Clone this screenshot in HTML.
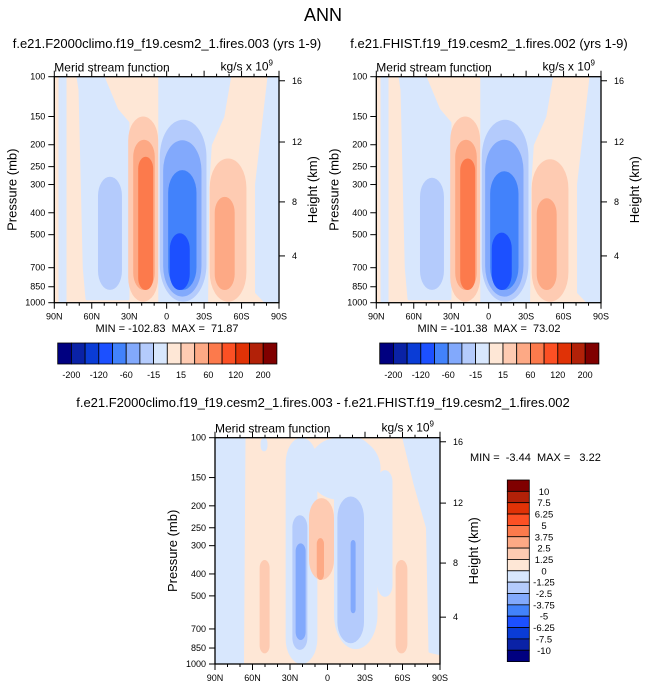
<!DOCTYPE html>
<html><head><meta charset="utf-8"><style>
body{margin:0;background:#fff;width:646px;height:688px;overflow:hidden}
svg{display:block;font-family:"Liberation Sans",sans-serif}
text{white-space:pre}
</style></head><body>
<svg id="c" width="646" height="688" viewBox="0 0 646 688">
<text x="323" y="21" font-size="18" text-anchor="middle">ANN</text>
<text x="167" y="48" font-size="13" text-anchor="middle">f.e21.F2000climo.f19_f19.cesm2_1.fires.003 (yrs 1-9)</text>
<text x="489" y="48" font-size="13" text-anchor="middle">f.e21.FHIST.f19_f19.cesm2_1.fires.002 (yrs 1-9)</text>
<text x="323" y="407" font-size="13" text-anchor="middle">f.e21.F2000climo.f19_f19.cesm2_1.fires.003 - f.e21.FHIST.f19_f19.cesm2_1.fires.002</text>
</svg>
<script>
const levelColors = ['#000080','#0a22a6','#0a3cd6','#1c50ff','#4282fb','#82a9fc','#b4cbfc','#d8e7fd','#fee7d6','#fecbb2','#fda985','#fc7a4c','#fc5024','#e03206','#b22108','#800000'];
const BG = 8;
// Panel A (F2000climo) blobs: lat1, lat2, pTop, pBot, level
const aLat1 = [55, 30.8, 26.8, 22.8, 5.5, 2.8, -1.2, -2.5, -34.5, -38.5];
const aLat2 = [35.8, 6.8, 9.5, 10.8, -31.9, -27.9, -23.9, -18.5, -63.9, -54.5];
const aPTop = [277, 150, 190, 226, 155, 191, 259, 493, 230, 340];
const aPBot = [878, 990, 879, 879, 990, 940, 879, 879, 990, 879];
const aLevel = [6, 9, 10, 11, 6, 5, 4, 3, 9, 10];
// Panel B (FHIST) blobs
const bLat1 = [55, 30.8, 26.8, 22.8, 5.5, 2.8, -1.2, -2.5, -34.5, -38.5];
const bLat2 = [35.8, 6.8, 9.5, 10.8, -31.9, -27.9, -23.9, -18.5, -63.9, -54.5];
const bPTop = [280, 150, 190, 230, 155, 190, 262, 490, 232, 345];
const bPBot = [878, 990, 879, 879, 990, 940, 879, 879, 990, 879];
const bLevel = [6, 9, 10, 11, 6, 5, 4, 3, 9, 10];
// Light blue regions (polygons, lat/p pairs) for panels A/B
const abPolyLats = [[71,51,40,31,31,63.8,66,69.4],[5.5,-50.5,-45,-35,-33,-32,5.5],[-82,-90,-90,-80,-72,-72],[85.4,81.4,81.4,85.4]];
const abPolyPs = [[100,100,140,160,960,960,700,114.5],[100,100,150,200,300,1000,1000],[100,100,1000,1000,900,300],[100,100,1000,1000]];
// Diff panel blobs
const dLat1 = [33.5, 16, -5.2, -40, 14.8, 8.6, 28.1, 25.5, -7.9, -18.5, 54.3, -54.5, 53.5];
const dLat2 = [8.1, -42.5, -40, -52, -5.2, 2.8, 16.1, 17.5, -29.2, -22.5, 46.3, -63.9, 48];
const dPTop = [100, 100, 100, 139, 185, 278, 220, 293, 182, 283, 347, 347, 100];
const dPBot = [1000, 188, 860, 505, 425, 425, 866, 783, 810, 597, 897, 897, 115];
const dLevel = [7, 7, 7, 7, 9, 10, 6, 5, 6, 5, 9, 9, 7];
const dPolyLats = [[90,66.8,68,90],[-61,-90,-90,-82,-80,-70]];
const dPolyPs = [[100,100,1000,1000],[100,100,900,880,250,160]];
const pTicks = [100,150,200,250,300,400,500,700,850,1000];
const latTicks = [90,60,30,0,-30,-60,-90];
const latLabels = ['90N','60N','30N','0','30S','60S','90S'];
const hTicks = [16,12,8,4];
const hFrac = [0.018,0.289,0.554,0.793];
const barLabelsH = ['-200','-120','-60','-15','15','60','120','200'];
const barLabelsV = ['10','7.5','6.25','5','3.75','2.5','1.25','0','-1.25','-2.5','-3.75','-5','-6.25','-7.5','-10'];

const NS='http://www.w3.org/2000/svg';
const svg=document.getElementById('c');
function mk(tag,attrs,parent){const e=document.createElementNS(NS,tag);for(const k in attrs)e.setAttribute(k,attrs[k]);(parent||svg).appendChild(e);return e;}

function panel(pfx,x0,y0,w,h,lat1,lat2,pt,pb,lv,polyLats,polyPs,minmax,mmx,mmy,mmAnchor){
  const X=lat=>x0+(90-lat)/180*w;
  const Y=p=>y0+h*Math.log10(p/100);
  const g=mk('g',{});
  
  
  const cp='clip'+pfx;
  const cl=mk('clipPath',{id:cp},g);mk('rect',{x:x0,y:y0,width:w,height:h},cl);
  const inner=mk('g',{'clip-path':'url(#'+cp+')'},g);
  const bg=mk('rect',{x:x0,y:y0,width:w,height:h,fill:levelColors[BG]},inner);
  
  
  polyLats.forEach((ls,i)=>{
    const pts=ls.map((l,j)=>X(l)+','+Y(polyPs[i][j])).join(' ');
    const e=mk('polygon',{points:pts,fill:levelColors[7],'stroke':levelColors[7],'stroke-width':3,'stroke-linejoin':'round'},inner);
    
    
  });
  lat1.forEach((l,i)=>{
    const xa=X(l),xb=X(lat2[i]),ya=Y(pt[i]),yb=Y(pb[i]);
    const ww=xb-xa,hh=yb-ya;const r=Math.min(ww,hh)/2;
    const e=mk('rect',{x:xa,y:ya,width:ww,height:hh,rx:r,ry:Math.min(r*1.6,hh/2),fill:levelColors[lv[i]]},inner);
    
    
  });
  const fr=mk('rect',{x:x0,y:y0,width:w,height:h,fill:'none',stroke:'#000','stroke-width':1.3},g);
  
  
  for(let l=90;l>=-90;l-=10){
    const major=l%30===0;const len=major?6:3;
    mk('line',{x1:X(l),x2:X(l),y1:y0+h,y2:y0+h+len,stroke:'#000'},g);
    mk('line',{x1:X(l),x2:X(l),y1:y0,y2:y0-len,stroke:'#000'},g);
  }
  latTicks.forEach((l,i)=>{const t=mk('text',{x:X(l),y:y0+h+17,'font-size':9,'text-anchor':'middle'},g);t.textContent=latLabels[i];
    
    });
  pTicks.forEach(p=>{mk('line',{x1:x0-6,x2:x0,y1:Y(p),y2:Y(p),stroke:'#000'},g);
    const t=mk('text',{x:x0-9,y:Y(p)+3,'font-size':9,'text-anchor':'end'},g);t.textContent=p;
    
    });
  hTicks.forEach((z,i)=>{const yy=y0+h*hFrac[i];mk('line',{x1:x0+w,x2:x0+w+6,y1:yy,y2:yy,stroke:'#000'},g);
    const t=mk('text',{x:x0+w+13,y:yy+3,'font-size':9},g);t.textContent=z;
    
    });
  let t=mk('text',{x:x0-38,y:y0+h/2,'font-size':13,'text-anchor':'middle',transform:`rotate(-90 ${x0-38} ${y0+h/2})`},g);t.textContent='Pressure (mb)';
  
  
  t=mk('text',{x:x0+w+38,y:y0+h/2,'font-size':13,'text-anchor':'middle',transform:`rotate(-90 ${x0+w+38} ${y0+h/2})`},g);t.textContent='Height (km)';
  
  
  t=mk('text',{x:x0,y:y0-5,'font-size':12},g);t.textContent='Merid stream function';
  
  
  t=mk('text',{x:x0+w-6,y:y0-6,'font-size':12,'text-anchor':'end'},g);t.innerHTML='kg/s x 10<tspan dy="-5" font-size="8">9</tspan>';
  
  
  t=mk('text',{x:mmx,y:mmy,'font-size':11,'text-anchor':mmAnchor},g);t.textContent=minmax;
  
  
}
panel('left',54.3,76.7,224.7,226,aLat1,aLat2,aPTop,aPBot,aLevel,abPolyLats,abPolyPs,'MIN = -102.83  MAX =  71.87',167,332,'middle');
panel('right',376.3,76.7,224.7,226,bLat1,bLat2,bPTop,bPBot,bLevel,abPolyLats,abPolyPs,'MIN = -101.38  MAX =  73.02',489,332,'middle');
panel('diff',215,437.7,225,226.3,dLat1,dLat2,dPTop,dPBot,dLevel,dPolyLats,dPolyPs,'MIN =  -3.44  MAX =   3.22',470,461,'start');

function hbar(x0,y0,name){
  const bw=13.7,bh=21;
  const g=mk('g',{});
  
  
  levelColors.forEach((c,i)=>{const r=mk('rect',{x:x0+i*bw,y:y0,width:bw,height:bh,fill:c,stroke:'#000','stroke-width':0.8},g);
    
    });
  barLabelsH.forEach((s,i)=>{const t=mk('text',{x:x0+(2*i+1)*bw,y:y0+bh+14,'font-size':9,'text-anchor':'middle'},g);t.textContent=s;
    
    });
}
hbar(57.7,343,'left-colorbar');
hbar(379.7,343,'right-colorbar');
(function(){
  const x0=507.3,y0=480,bw=22,bh=11.35;
  const g=mk('g',{});
  
  
  levelColors.slice().reverse().forEach((c,i)=>{const r=mk('rect',{x:x0,y:y0+i*bh,width:bw,height:bh,fill:c,stroke:'#000','stroke-width':0.8},g);
    
    });
  barLabelsV.forEach((s,i)=>{const t=mk('text',{x:544,y:y0+(i+1)*bh+3.5,'font-size':9.5,'text-anchor':'middle'},g);t.textContent=s;
    
    });
})();
</script>
</body></html>
